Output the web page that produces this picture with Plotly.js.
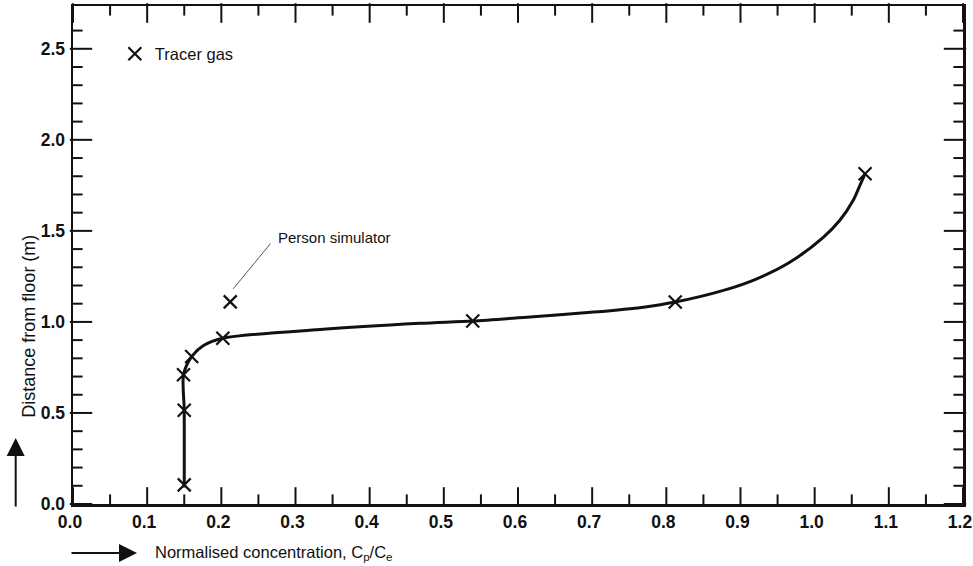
<!DOCTYPE html>
<html>
<head>
<meta charset="utf-8">
<script src="https://cdn.plot.ly/plotly-3.0.1.min.js"></script>
<style>
  html, body { margin: 0; padding: 0; background: #ffffff; }
  #chart { width: 973px; height: 566px; }
</style>
</head>
<body>
<div id="chart"></div>
<script>
// Measured tracer gas points (normalised concentration, height in m)
const tracerX = [0.150, 0.150, 0.149, 0.160, 0.202, 0.212, 0.539, 0.812, 1.068];
const tracerY = [0.105, 0.515, 0.710, 0.810, 0.910, 1.110, 1.005, 1.109, 1.814];

// Hand-drawn profile curve
const curveX = [0.150, 0.150, 0.149, 0.160, 0.176, 0.202, 0.333, 0.468, 0.539, 0.612, 0.702, 0.769, 0.812, 0.877, 0.922, 0.967, 1.012, 1.034, 1.052, 1.060, 1.068];
const curveY = [0.090, 0.515, 0.710, 0.810, 0.870, 0.910, 0.958, 0.992, 1.005, 1.026, 1.054, 1.081, 1.109, 1.173, 1.237, 1.329, 1.466, 1.558, 1.668, 1.740, 1.814];

// Tick values
const xMajorTicks = [0.0, 0.1, 0.2, 0.3, 0.4, 0.5, 0.6, 0.7, 0.8, 0.9, 1.0, 1.1, 1.2];
const xTickLabels = ['0.0', '0.1', '0.2', '0.3', '0.4', '0.5', '0.6', '0.7', '0.8', '0.9', '1.0', '1.1', '1.2'];
const xMinorTicks = [0.05, 0.15, 0.25, 0.35, 0.45, 0.55, 0.65, 0.75, 0.85, 0.95, 1.05, 1.15];
const yMajorTicks = [0.0, 0.5, 1.0, 1.5, 2.0, 2.5];
const yTickLabels = ['0.0', '0.5', '1.0', '1.5', '2.0', '2.5'];
const yMinorTicks = [0.1, 0.2, 0.3, 0.4, 0.6, 0.7, 0.8, 0.9, 1.1, 1.2, 1.3, 1.4, 1.6, 1.7, 1.8, 1.9, 2.1, 2.2, 2.3, 2.4, 2.6];

const xTitle = 'Normalised concentration, C<sub>p</sub>/C<sub>e</sub>';
const yTitle = 'Distance from floor (m)';
const legendName = 'Tracer gas';
const pointLabel = 'Person simulator';

const FONT = '"Liberation Sans", Arial, Helvetica, sans-serif';
const INK = '#111111';

const W = 973, H = 566;
const M = { l: 73, r: 10, t: 6, b: 62 };
const X_RANGE = [0, 1.2];
const Y_RANGE = [0, 2.735];

// pixel -> data-unit conversion for tick lengths
const xPerPx = (X_RANGE[1] - X_RANGE[0]) / (W - M.l - M.r);
const yPerPx = (Y_RANGE[1] - Y_RANGE[0]) / (H - M.t - M.b);

// Inside tick marks on all four sides, drawn as line-shaped markers
function xTickTrace(vals, lenPx) {
  const d = (lenPx / 2) * yPerPx;
  const xs = [], ys = [];
  vals.forEach(v => { xs.push(v, v); ys.push(Y_RANGE[0] + d, Y_RANGE[1] - d); });
  return { x: xs, y: ys, type: 'scatter', mode: 'markers', cliponaxis: false,
           marker: { symbol: 'line-ns-open', size: lenPx, color: INK, line: { color: INK, width: 2 } },
           showlegend: false, hoverinfo: 'skip' };
}
function yTickTrace(vals, lenPx) {
  const d = (lenPx / 2) * xPerPx;
  const xs = [], ys = [];
  vals.forEach(v => { xs.push(X_RANGE[0] + d, X_RANGE[1] - d); ys.push(v, v); });
  return { x: xs, y: ys, type: 'scatter', mode: 'markers', cliponaxis: false,
           marker: { symbol: 'line-ew-open', size: lenPx, color: INK, line: { color: INK, width: 2 } },
           showlegend: false, hoverinfo: 'skip' };
}

const traces = [
  xTickTrace(xMajorTicks, 14),
  xTickTrace(xMinorTicks, 8),
  yTickTrace(yMajorTicks, 16),
  yTickTrace(yMinorTicks, 8),
  {
    x: curveX, y: curveY, type: 'scatter', mode: 'lines',
    line: { color: INK, width: 3, shape: 'spline', smoothing: 0.8 },
    showlegend: false, hoverinfo: 'skip'
  },
  {
    x: tracerX, y: tracerY, type: 'scatter', mode: 'markers',
    name: legendName,
    marker: { symbol: 'x-thin', size: 13, color: INK, line: { color: INK, width: 2.2 } }
  }
];

const layout = {
  width: W, height: H,
  margin: M,
  paper_bgcolor: '#ffffff', plot_bgcolor: '#ffffff',
  font: { family: FONT, color: INK },
  xaxis: {
    range: X_RANGE, tickmode: 'array', tickvals: xMajorTicks, ticktext: xTickLabels,
    ticks: '', ticklabeloverflow: 'allow', ticklabelshift: -3,
    showline: true, linecolor: INK, linewidth: 2.5, mirror: true,
    showgrid: false, zeroline: false,
    tickfont: { family: FONT, size: 17.5, color: INK, weight: 'bold' }
  },
  yaxis: {
    range: Y_RANGE, tickmode: 'array', tickvals: yMajorTicks, ticktext: yTickLabels,
    ticks: '', ticklabelstandoff: 2,
    showline: true, linecolor: INK, linewidth: 2.5, mirror: true,
    showgrid: false, zeroline: false,
    tickfont: { family: FONT, size: 17.5, color: INK, weight: 'bold' }
  },
  showlegend: true,
  legend: {
    x: 0.047, xanchor: 'left', y: 0.9036, yanchor: 'middle',
    bgcolor: 'rgba(0,0,0,0)', borderwidth: 0,
    font: { family: FONT, size: 16.5, color: INK }
  },
  annotations: [
    { xref: 'paper', yref: 'paper', x: -0.0624, y: 0.357, text: yTitle, textangle: -90,
      showarrow: false, font: { family: FONT, size: 18, color: INK } },
    { xref: 'paper', yref: 'paper', x: 0.0896, y: -0.0984, xanchor: 'left', yanchor: 'middle',
      text: xTitle, showarrow: false, font: { family: FONT, size: 16.5, color: INK } },
    { xref: 'paper', yref: 'paper', x: -0.0644, y: 0.1325, text: '', showarrow: true,
      ax: 0, ay: 70, arrowhead: 2, arrowsize: 1.8, arrowwidth: 2, arrowcolor: INK },
    { xref: 'paper', yref: 'paper', x: 0.0719, y: -0.0984, text: '', showarrow: true,
      ax: -67, ay: 0, arrowhead: 2, arrowsize: 1.8, arrowwidth: 2, arrowcolor: INK },
    { xref: 'x', yref: 'y', x: 0.2743, y: 1.463, xanchor: 'left', yanchor: 'middle',
      text: pointLabel, showarrow: false, font: { family: FONT, size: 15, color: INK } },
    { xref: 'x', yref: 'y', x: 0.2161, y: 1.182, text: '', showarrow: true,
      ax: 38.4, ay: -46.6, arrowhead: 0, arrowwidth: 1, arrowcolor: '#555555' }
  ]
};

Plotly.newPlot('chart', traces, layout, { displayModeBar: false, staticPlot: true });
</script>
</body>
</html>
